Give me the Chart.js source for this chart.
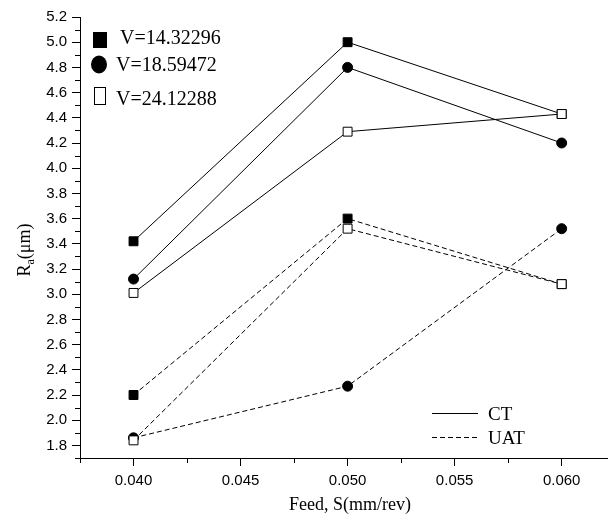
<!DOCTYPE html>
<html>
<head>
<meta charset="utf-8">
<script src="https://cdn.jsdelivr.net/npm/chart.js@4"></script>
<style>
  html, body { margin: 0; padding: 0; background: #fff; }
  #wrap { width: 615px; height: 523px; }
</style>
</head>
<body>
<div id="wrap"><canvas id="chart"></canvas></div>
<script>
// feed rates and measured roughness (Ra, um)
const feed = [0.040, 0.050, 0.060];
const ctV1 = [3.42, 5.00, 4.43];
const ctV2 = [3.12, 4.80, 4.20];
const ctV3 = [3.01, 4.29, 4.43];
const uatV1 = [2.20, 3.60, 3.08];
const uatV2 = [1.86, 2.27, 3.52];
const uatV3 = [1.84, 3.52, 3.08];

const xTicks = [0.040, 0.045, 0.050, 0.055, 0.060];
const xMinor = [0.0375, 0.0425, 0.0475, 0.0525, 0.0575];
const yTicks = [1.8, 2.0, 2.2, 2.4, 2.6, 2.8, 3.0, 3.2, 3.4, 3.6, 3.8, 4.0, 4.2, 4.4, 4.6, 4.8, 5.0, 5.2];
const yMinor = [1.7, 1.9, 2.1, 2.3, 2.5, 2.7, 2.9, 3.1, 3.3, 3.5, 3.7, 3.9, 4.1, 4.3, 4.5, 4.7, 4.9, 5.1];
const speedLabels = ["V=14.32296", "V=18.59472", "V=24.12288"];
const methodLabels = ["CT", "UAT"];

const pts = vals => vals.map((v, i) => ({ x: feed[i], y: v }));

function series(vals, style, dashed, order) {
  const open = style === "open";
  return {
    data: pts(vals),
    borderColor: "#000",
    borderWidth: 1,
    borderDash: dashed ? [5, 3] : [],
    pointStyle: style === "circle" ? "circle" : "rect",
    pointRadius: style === "circle" ? 5 : 6.3,
    pointBackgroundColor: open ? "#fff" : "#000",
    pointBorderColor: "#000",
    pointBorderWidth: 1,
    tension: 0,
    order: order
  };
}

const serif = "'Liberation Serif', 'Times New Roman', serif";

const overlay = {
  id: "overlay",
  afterDraw(chart) {
    const ctx = chart.ctx;
    const xs = chart.scales.x, ys = chart.scales.y;
    const a = chart.chartArea;
    ctx.save();
    ctx.strokeStyle = "#000";
    ctx.lineWidth = 1;
    ctx.beginPath();
    xMinor.forEach(v => {
      const px = Math.round(xs.getPixelForValue(v)) + 0.5;
      ctx.moveTo(px, a.bottom);
      ctx.lineTo(px, a.bottom + 5);
    });
    yMinor.forEach(v => {
      const py = Math.round(ys.getPixelForValue(v)) + 0.5;
      ctx.moveTo(a.left, py);
      ctx.lineTo(a.left - 5, py);
    });
    ctx.stroke();

    // speed legend, top left
    ctx.fillStyle = "#000";
    ctx.fillRect(93, 32, 14, 16);
    ctx.beginPath();
    ctx.ellipse(99, 64.5, 8, 9, 0, 0, Math.PI * 2);
    ctx.fill();
    ctx.strokeRect(94.5, 87.5, 11, 17);
    ctx.font = "20px " + serif;
    ctx.textBaseline = "alphabetic";
    ctx.fillText(speedLabels[0], 120, 44);
    ctx.fillText(speedLabels[1], 116, 71);
    ctx.fillText(speedLabels[2], 116, 105);

    // method legend, bottom right
    ctx.beginPath();
    ctx.moveTo(432, 413.5);
    ctx.lineTo(478, 413.5);
    ctx.stroke();
    ctx.setLineDash([5, 3]);
    ctx.beginPath();
    ctx.moveTo(432, 437.5);
    ctx.lineTo(478, 437.5);
    ctx.stroke();
    ctx.setLineDash([]);
    ctx.font = "19px " + serif;
    ctx.fillText(methodLabels[0], 488, 420);
    ctx.fillText(methodLabels[1], 488, 444);

    // x title
    ctx.font = "18px " + serif;
    ctx.textAlign = "center";
    ctx.fillText("Feed, S(mm/rev)", 350, 510);

    // y title with subscript
    ctx.translate(30, 250);
    ctx.rotate(-Math.PI / 2);
    ctx.textAlign = "left";
    const big = "18px " + serif, small = "12px " + serif;
    ctx.font = big;
    const wR = ctx.measureText("R").width, wP = ctx.measureText("(\u03bcm)").width;
    ctx.font = small;
    const wa = ctx.measureText("a").width;
    let x0 = -(wR + wa + wP) / 2;
    ctx.font = big;
    ctx.fillText("R", x0, 0);
    ctx.font = small;
    ctx.fillText("a", x0 + wR, 4);
    ctx.font = big;
    ctx.fillText("(\u03bcm)", x0 + wR + wa, 0);
    ctx.restore();
  }
};

const tickFont = { family: "'Liberation Sans', Arial, sans-serif", size: 15 };

new Chart(document.getElementById("chart"), {
  type: "line",
  data: {
    datasets: [
      series(ctV1, "filled", false, 3),
      series(ctV2, "circle", false, 2),
      series(ctV3, "open", false, 1),
      series(uatV1, "filled", true, 3),
      series(uatV2, "circle", true, 2),
      series(uatV3, "open", true, 1)
    ]
  },
  options: {
    responsive: true,
    maintainAspectRatio: false,
    animation: false,
    layout: { padding: { top: 17, right: 0, left: 0, bottom: 0 } },
    plugins: { legend: { display: false }, tooltip: { enabled: false } },
    scales: {
      x: {
        type: "linear",
        min: 0.0375,
        max: 0.06215,
        afterBuildTicks: s => { s.ticks = xTicks.map(v => ({ value: v })); },
        afterFit: s => { s.height = 65; },
        grid: { drawOnChartArea: false, drawTicks: true, tickLength: 8, color: "#000" },
        border: { color: "#000", width: 1 },
        ticks: { font: tickFont, color: "#000", padding: 6, maxRotation: 0, callback: v => v.toFixed(3) }
      },
      y: {
        min: 1.7,
        max: 5.2,
        afterBuildTicks: s => { s.ticks = yTicks.map(v => ({ value: v })); },
        afterFit: s => { s.width = 80; },
        grid: { drawOnChartArea: false, drawTicks: true, tickLength: 8, color: "#000" },
        border: { color: "#000", width: 1 },
        ticks: { font: tickFont, color: "#000", padding: 5, callback: v => v.toFixed(1) }
      }
    }
  },
  plugins: [overlay]
});
</script>
</body>
</html>
